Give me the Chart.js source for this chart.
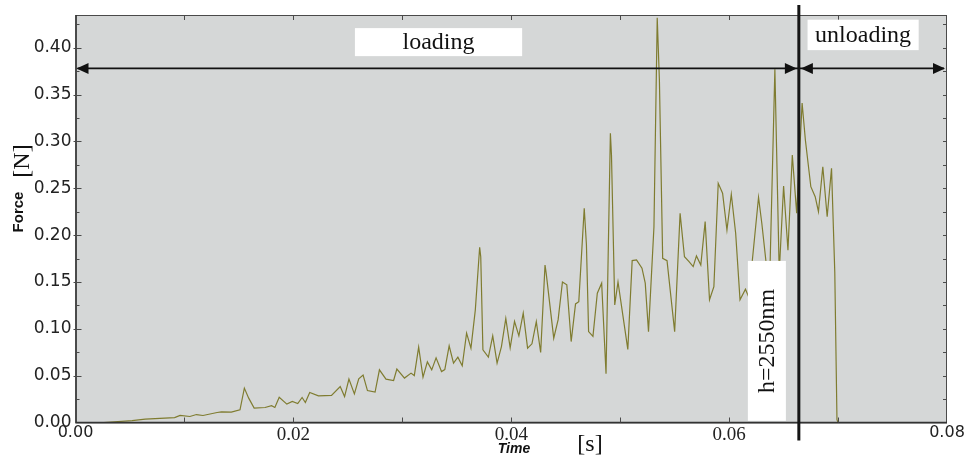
<!DOCTYPE html>
<html>
<head>
<meta charset="utf-8">
<script src="https://cdn.jsdelivr.net/npm/chart.js@4.4.1/dist/chart.umd.min.js"></script>
<style>
  html, body { margin: 0; padding: 0; background: #fff; }
  #wrap { width: 966px; height: 457px; }
</style>
</head>
<body>
<div id="wrap"><canvas id="c" width="966" height="457"></canvas></div>
<script>
// ---- data ----
const timeS = [
  0, 0.0026, 0.0052, 0.0064, 0.0091, 0.0096, 0.0105, 0.0111, 0.0117, 0.0130,
  0.0134, 0.0143, 0.0151, 0.0155, 0.0159, 0.0164, 0.0174, 0.0180, 0.0183, 0.0187,
  0.0194, 0.0199, 0.0204, 0.0208, 0.0211, 0.0215, 0.0223, 0.0235, 0.0243, 0.0247,
  0.0251, 0.0256, 0.0260, 0.0264, 0.0268, 0.0275, 0.0279, 0.0285, 0.0292, 0.0295,
  0.0302, 0.0308, 0.0311, 0.0315, 0.0319, 0.0323, 0.0327, 0.0331, 0.0336, 0.0339,
  0.0343, 0.0347, 0.0351, 0.0355, 0.0359, 0.0363, 0.0367, 0.0371, 0.0372, 0.0374,
  0.0379, 0.0383, 0.0387, 0.0391, 0.0395, 0.0399, 0.0403, 0.0407, 0.0411, 0.0415,
  0.0419, 0.0423, 0.0427, 0.0431, 0.0432, 0.0439, 0.0443, 0.0447, 0.0451, 0.0455,
  0.0459, 0.0462, 0.0467, 0.0469, 0.0471, 0.0475, 0.0479, 0.0483, 0.0487, 0.0491,
  0.0492, 0.0495, 0.0498, 0.0507, 0.0511, 0.0515, 0.0520, 0.0523, 0.0526, 0.0531,
  0.0534, 0.0536, 0.0539, 0.0543, 0.0550, 0.0555, 0.0559, 0.0563, 0.0567, 0.0570,
  0.0574, 0.0578, 0.0582, 0.0586, 0.0590, 0.0594, 0.0598, 0.0602, 0.0606, 0.0610,
  0.0615, 0.0618, 0.0627, 0.0630, 0.0634, 0.0637, 0.0642, 0.0646, 0.0650, 0.0654,
  0.0658, 0.0662, 0.0667, 0.0670, 0.0675, 0.0679, 0.0682, 0.0686, 0.0690, 0.0694,
  0.0697, 0.0699, 0.0700, 0.0800
];
const forceN = [
  0, 0, 0.0020, 0.0036, 0.0053, 0.0075, 0.0064, 0.0085, 0.0075, 0.0107,
  0.0114, 0.0110, 0.0135, 0.0367, 0.0260, 0.0154, 0.0160, 0.0180, 0.0160, 0.0270,
  0.0196, 0.0224, 0.0203, 0.0267, 0.0213, 0.0320, 0.0285, 0.0290, 0.0384, 0.0277,
  0.0463, 0.0306, 0.0466, 0.0506, 0.0341, 0.0324, 0.0562, 0.0463, 0.0448, 0.0570,
  0.0474, 0.0527, 0.0501, 0.0804, 0.0484, 0.0647, 0.0562, 0.0690, 0.0544, 0.0565,
  0.0818, 0.0634, 0.0698, 0.0605, 0.0954, 0.0794, 0.1200, 0.1870, 0.1770, 0.0775,
  0.0698, 0.0925, 0.0634, 0.0810, 0.1110, 0.0797, 0.1080, 0.0925, 0.1167, 0.0794,
  0.0840, 0.1077, 0.0747, 0.1680, 0.1600, 0.0900, 0.1095, 0.1500, 0.1470, 0.0864,
  0.1266, 0.1290, 0.2287, 0.1900, 0.0970, 0.0920, 0.1380, 0.1487, 0.0520, 0.3087,
  0.2855, 0.1255, 0.1500, 0.0780, 0.1728, 0.1735, 0.1647, 0.1487, 0.0970, 0.2090,
  0.4320, 0.3655, 0.1753, 0.1728, 0.0970, 0.2233, 0.1770, 0.1720, 0.1664, 0.1778,
  0.1680, 0.2144, 0.1310, 0.1450, 0.2553, 0.2447, 0.2055, 0.2436, 0.2020, 0.1310,
  0.1423, 0.1340, 0.2404, 0.2127, 0.1700, 0.1400, 0.3770, 0.1600, 0.2525, 0.1840,
  0.2855, 0.2233, 0.3410, 0.3015, 0.2517, 0.2410, 0.2250, 0.2730, 0.2197, 0.2713,
  0.1600, 0.0030, 0, 0
];

// axes
const X_MIN = 0, X_MAX = 0.08, X_STEP = 0.02, X_MINOR = 0.01;
const Y_MIN = 0, Y_MAX = 0.435, Y_STEP = 0.05, Y_MINOR = 0.025;

// annotations (data units)
const T_SWITCH = 0.0664;      // loading -> unloading
const ARROW_F = 0.378;
const loadingBox = { t0: 0.02565, t1: 0.0410, f0: 0.3911, f1: 0.4210, text: 'loading' };
const unloadingBox = { t0: 0.0672, t1: 0.0774, f0: 0.3975, f1: 0.4300, text: 'unloading' };
const depthBox = { t0: 0.06172, t1: 0.06521, f0: 0.0018, f1: 0.1725, text: 'h=2550nm' };

const PLOT_BG = '#d5d7d7';
const LINE_COLOR = '#7f7c30';
const FRAME_COLOR = '#4a4a4a';

function drawArrowHead(ctx, x, y, dir) {
  ctx.beginPath();
  ctx.moveTo(x, y);
  ctx.lineTo(x - dir * 12, y - 5.5);
  ctx.lineTo(x - dir * 12, y + 5.5);
  ctx.closePath();
  ctx.fill();
}

function drawBox(ctx, xs, ys, b, vertical) {
  const l = xs.getPixelForValue(b.t0), r = xs.getPixelForValue(b.t1);
  const t = ys.getPixelForValue(b.f1), btm = ys.getPixelForValue(b.f0);
  ctx.fillStyle = '#ffffff';
  ctx.fillRect(l, t, r - l, btm - t);
  ctx.fillStyle = '#111';
  ctx.font = '24px "Liberation Serif", "Times New Roman", serif';
  ctx.textAlign = 'center';
  ctx.textBaseline = 'middle';
  if (vertical) {
    ctx.save();
    ctx.translate((l + r) / 2 + 1, (t + btm) / 2);
    ctx.rotate(-Math.PI / 2);
    ctx.fillText(b.text, 0, 0);
    ctx.restore();
  } else {
    ctx.fillText(b.text, (l + r) / 2, (t + btm) / 2 + 1);
  }
}

const framePlugin = {
  id: 'frame',
  beforeDraw(chart) {
    const { ctx, chartArea: a } = chart;
    ctx.save();
    ctx.fillStyle = PLOT_BG;
    ctx.fillRect(a.left, a.top, a.right - a.left, a.bottom - a.top);
    ctx.restore();
  },
  afterDatasetsDraw(chart) {
    const { ctx, chartArea: a } = chart;
    const xs = chart.scales.x, ys = chart.scales.y;
    ctx.save();

    // frame and inward ticks
    ctx.strokeStyle = FRAME_COLOR;
    ctx.lineWidth = 1;
    ctx.strokeRect(a.left + 0.5, a.top + 0.5, a.right - a.left - 1, a.bottom - a.top);
    ctx.strokeStyle = '#333';
    ctx.lineWidth = 1.5;
    ctx.beginPath();
    ctx.moveTo(a.left + 0.5, a.top); ctx.lineTo(a.left + 0.5, a.bottom);
    ctx.lineTo(a.right, a.bottom);
    ctx.stroke();
    ctx.lineWidth = 1;
    ctx.strokeStyle = FRAME_COLOR;
    ctx.beginPath();
    for (let v = X_MIN + X_MINOR; v < X_MAX - 1e-9; v += X_MINOR) {
      const px = Math.round(xs.getPixelForValue(v)) + 0.5;
      ctx.moveTo(px, a.bottom); ctx.lineTo(px, a.bottom - 5);
      ctx.moveTo(px, a.top); ctx.lineTo(px, a.top + 5);
    }
    for (let v = Y_MIN + Y_MINOR; v < Y_MAX - 1e-9; v += Y_MINOR) {
      const py = Math.round(ys.getPixelForValue(v)) + 0.5;
      const major = Math.abs(v / Y_STEP - Math.round(v / Y_STEP)) < 1e-6;
      ctx.moveTo(a.left - (major ? 2 : 0), py); ctx.lineTo(a.left + (major ? 6 : 4), py);
      ctx.moveTo(a.right, py); ctx.lineTo(a.right - 4, py);
    }
    ctx.stroke();

    // text boxes
    drawBox(ctx, xs, ys, loadingBox, false);
    drawBox(ctx, xs, ys, unloadingBox, false);
    drawBox(ctx, xs, ys, depthBox, true);

    // double arrows
    const xSw = xs.getPixelForValue(T_SWITCH);
    const yA = ys.getPixelForValue(ARROW_F);
    const x0 = xs.getPixelForValue(X_MIN), x1 = xs.getPixelForValue(X_MAX);
    ctx.strokeStyle = '#111';
    ctx.fillStyle = '#111';
    ctx.lineWidth = 1.6;
    ctx.beginPath();
    ctx.moveTo(x0 + 2, yA); ctx.lineTo(x1 - 3, yA);
    ctx.stroke();
    drawArrowHead(ctx, x0 + 1, yA, -1);
    drawArrowHead(ctx, xSw - 2, yA, 1);
    drawArrowHead(ctx, xSw + 2, yA, -1);
    drawArrowHead(ctx, x1 - 2, yA, 1);

    // loading / unloading divider
    ctx.lineWidth = 3;
    ctx.strokeStyle = '#151515';
    ctx.beginPath();
    ctx.moveTo(xSw, a.top - 10);
    ctx.lineTo(xSw, a.bottom + 18);
    ctx.stroke();
    ctx.restore();
  },
  afterDraw(chart) {
    const { ctx } = chart;
    ctx.save();
    // white patch behind [N] (clips the tick labels like the original)
    ctx.fillStyle = '#fff';
    ctx.fillRect(10, 128, 25, 66);
    ctx.fillStyle = '#111';
    ctx.textAlign = 'center';
    ctx.textBaseline = 'middle';
    ctx.save();
    ctx.translate(23, 161);
    ctx.rotate(-Math.PI / 2);
    ctx.font = '24px "Liberation Serif", "Times New Roman", serif';
    ctx.fillText('[N]', 0, 0);
    ctx.restore();
    ctx.save();
    ctx.translate(19, 212);
    ctx.rotate(-Math.PI / 2);
    ctx.font = 'bold 15px "Liberation Sans", Arial, sans-serif';
    ctx.fillText('Force', 0, 0);
    ctx.restore();
    ctx.font = 'italic bold 14px "Liberation Sans", Arial, sans-serif';
    ctx.fillText('Time', 514, 449);
    ctx.font = '24px "Liberation Serif", "Times New Roman", serif';
    ctx.fillText('[s]', 590, 445);
    ctx.restore();
  }
};

const points = timeS.map((t, i) => ({ x: t, y: forceN[i] }));

const sansTick = { family: '"DejaVu Sans", sans-serif', size: 16 };
const sansTickY = { family: '"DejaVu Sans", sans-serif', size: 17 };
const serifTick = { family: '"Liberation Serif", "Times New Roman", serif', size: 19 };

new Chart(document.getElementById('c'), {
  type: 'line',
  data: {
    datasets: [{
      data: points,
      borderColor: LINE_COLOR,
      borderWidth: 1.2,
      pointRadius: 0,
      tension: 0,
      fill: false,
    }],
  },
  options: {
    responsive: false,
    animation: false,
    events: [],
    layout: { padding: { left: 0, right: 19, top: 15, bottom: 0 } },
    plugins: { legend: { display: false }, tooltip: { enabled: false } },
    scales: {
      x: {
        type: 'linear',
        min: X_MIN,
        max: X_MAX,
        grid: { display: false, drawTicks: false },
        border: { display: false },
        afterFit: (s) => { s.height = 34.5; },
        ticks: {
          stepSize: X_STEP,
          padding: 1,
          maxRotation: 0,
          color: '#222',
          font: (c) => {
            const v = c.tick ? c.tick.value : 0;
            if (v < 0.001 || v > X_MAX - 0.001) return sansTick;
            return serifTick;
          },
          callback: (v) => Number(v).toFixed(2),
        },
      },
      y: {
        type: 'linear',
        min: Y_MIN,
        max: Y_MAX,
        grid: { display: false, drawTicks: false },
        border: { display: false },
        afterFit: (s) => { s.width = 75.5; },
        ticks: {
          stepSize: Y_STEP,
          includeBounds: false,
          padding: 4,
          color: '#222',
          font: sansTickY,
          callback: (v) => Number(v).toFixed(2),
        },
      },
    },
  },
  plugins: [framePlugin],
});
</script>
</body>
</html>
